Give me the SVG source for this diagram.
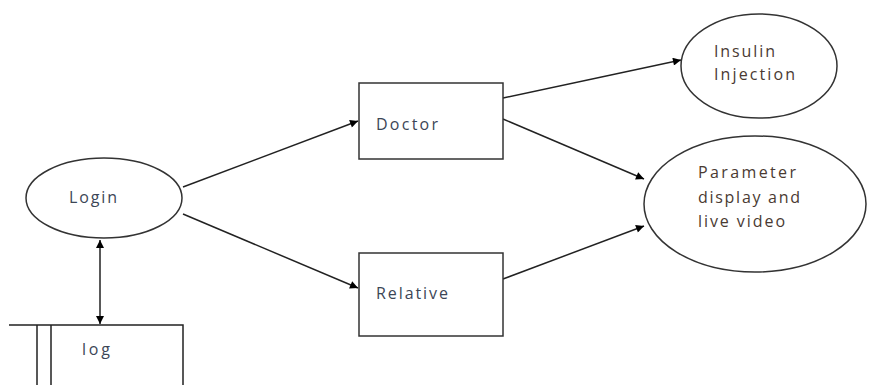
<svg xmlns="http://www.w3.org/2000/svg" width="869" height="385" viewBox="0 0 869 385">
<defs>
<marker id="ah" viewBox="0 0 10 10" refX="10" refY="5" markerWidth="10" markerHeight="8" markerUnits="userSpaceOnUse" orient="auto-start-reverse">
<path d="M0,0 L10,5 L0,10 z" fill="#000"/>
</marker>
<style>
.sh{fill:#fff;stroke:#333;stroke-width:1.5}
.ln{stroke:#222;stroke-width:1.5;fill:none}
.t{font-family:"Open Sans","Liberation Sans",sans-serif;font-size:16px;fill:#3c4656}
.tb{font-family:"Open Sans","Liberation Sans",sans-serif;font-size:16px;fill:#4a3a32}
</style>
</defs>
<rect width="869" height="385" fill="#fff"/>
<g id="connectors">
<line class="ln" x1="183" y1="187" x2="358" y2="121" marker-end="url(#ah)"/>
<line class="ln" x1="183" y1="214" x2="358" y2="288" marker-end="url(#ah)"/>
<line class="ln" x1="503" y1="98" x2="681" y2="60" marker-end="url(#ah)"/>
<line class="ln" x1="503" y1="119" x2="644" y2="179" marker-end="url(#ah)"/>
<line class="ln" x1="503" y1="279" x2="644" y2="226" marker-end="url(#ah)"/>
<line class="ln" x1="100" y1="240" x2="100" y2="324" marker-start="url(#ah)" marker-end="url(#ah)"/>
</g>
<g id="login">
<ellipse class="sh" cx="104" cy="198" rx="78" ry="40"/>
<text class="t" x="69" y="203" textLength="48">Login</text>
</g>
<g id="log">
<path class="ln" d="M9,325 H183 V385 M37,325 V385 M51,325 V385"/>
<text class="t" x="82" y="355" textLength="28">log</text>
</g>
<g id="doctor">
<rect class="sh" x="359" y="83" width="144" height="76"/>
<text class="t" x="376" y="130" textLength="62">Doctor</text>
</g>
<g id="relative">
<rect class="sh" x="359" y="253" width="144" height="83"/>
<text class="t" x="376" y="299" textLength="72">Relative</text>
</g>
<g id="insulin">
<ellipse class="sh" cx="759" cy="66" rx="78" ry="52"/>
<text class="tb" x="714" y="57" textLength="61">Insulin</text>
<text class="tb" x="714" y="80" textLength="81">Injection</text>
</g>
<g id="parameter">
<ellipse class="sh" cx="755" cy="204" rx="111" ry="68"/>
<text class="tb" x="698" y="178" textLength="98">Parameter</text>
<text class="tb" x="698" y="203" textLength="102">display and</text>
<text class="tb" x="698" y="227" textLength="87">live video</text>
</g>
</svg>
